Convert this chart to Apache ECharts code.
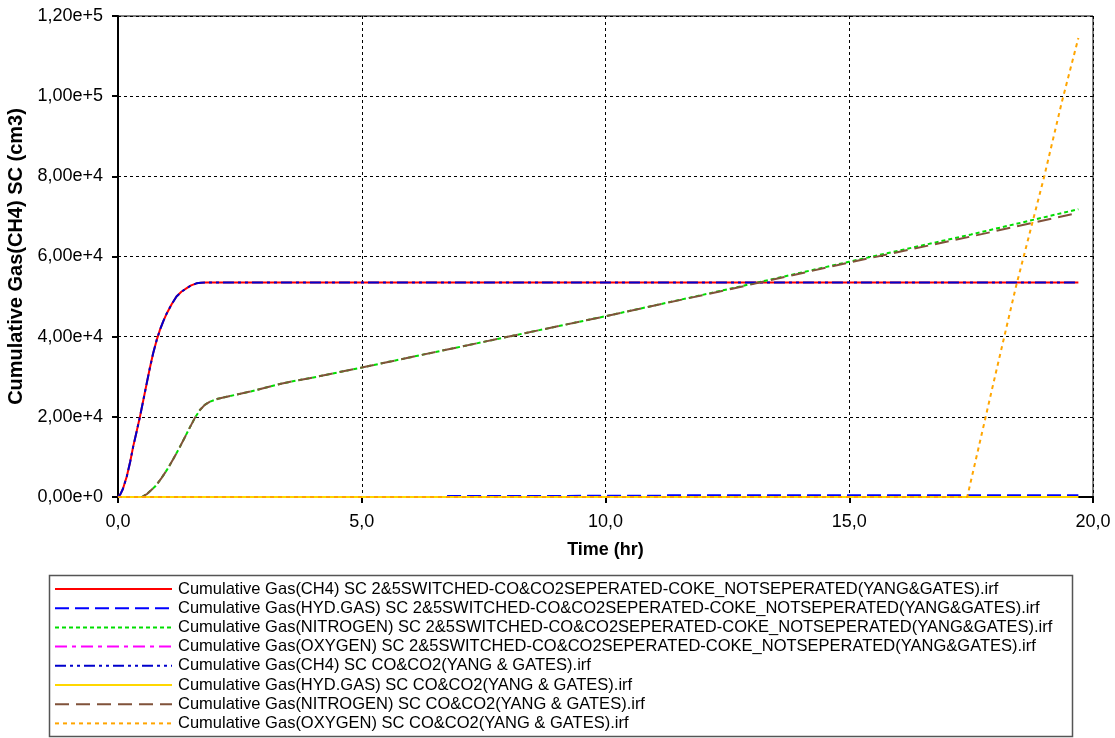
<!DOCTYPE html>
<html>
<head>
<meta charset="utf-8">
<title>Cumulative Gas</title>
<script src="https://cdn.jsdelivr.net/npm/echarts@6/dist/echarts.min.js"></script>
<style>
  html, body { margin: 0; padding: 0; background: #ffffff; }
  #chart { width: 1115px; height: 738px; }
</style>
</head>
<body>
<div id="chart"></div>
<script>
// Series names, in legend order
const seriesNames = [
  'Cumulative Gas(CH4) SC 2&5SWITCHED-CO&CO2SEPERATED-COKE_NOTSEPERATED(YANG&GATES).irf',
  'Cumulative Gas(HYD.GAS) SC 2&5SWITCHED-CO&CO2SEPERATED-COKE_NOTSEPERATED(YANG&GATES).irf',
  'Cumulative Gas(NITROGEN) SC 2&5SWITCHED-CO&CO2SEPERATED-COKE_NOTSEPERATED(YANG&GATES).irf',
  'Cumulative Gas(OXYGEN) SC 2&5SWITCHED-CO&CO2SEPERATED-COKE_NOTSEPERATED(YANG&GATES).irf',
  'Cumulative Gas(CH4) SC CO&CO2(YANG & GATES).irf',
  'Cumulative Gas(HYD.GAS) SC CO&CO2(YANG & GATES).irf',
  'Cumulative Gas(NITROGEN) SC CO&CO2(YANG & GATES).irf',
  'Cumulative Gas(OXYGEN) SC CO&CO2(YANG & GATES).irf'
];

// Time (hr) and cumulative gas (cm3) per series
const ch4Time = [0, 0.05, 0.1, 0.18, 0.25, 0.31, 0.38, 0.45, 0.52, 0.59, 0.65, 0.72, 0.79, 0.86, 0.93,
                 1.0, 1.1, 1.2, 1.3, 1.41, 1.5, 1.61, 1.7, 1.8, 19.7];
const ch4A    = [0, 700, 2000, 5100, 8800, 12500, 16200, 20000, 24200, 28400, 32000, 35800, 39000, 41700, 43900,
                 45800, 48100, 50000, 51200, 52100, 52800, 53300, 53450, 53500, 53500];
const ch4B    = [0, 700, 2000, 5100, 8800, 12500, 16200, 20000, 24200, 28400, 32000, 35800, 39000, 41700, 43900,
                 45800, 48100, 50000, 51200, 52100, 52800, 53300, 53450, 53500, 53500];

const hydTimeA = [6.75, 11.2, 11.25, 19.7];
const hydA     = [250, 300, 420, 450];

const n2Time = [0.49, 0.6, 0.76, 0.88, 1.0, 1.14, 1.27, 1.38, 1.48, 1.58, 1.68, 1.78, 1.89, 2.05, 2.23,
                2.71, 3.39, 4.08, 5.0, 7.5, 10.0, 12.5, 15.0, 17.5, 19.7];
const n2A    = [0, 800, 2600, 4500, 6700, 9600, 12500, 15100, 17500, 19800, 21700, 23000, 23800, 24500, 25000,
                26300, 28400, 30000, 32300, 38700, 45100, 51800, 58700, 65500, 71800];
const n2B    = [0, 800, 2600, 4500, 6700, 9600, 12500, 15100, 17500, 19800, 21700, 23000, 23800, 24500, 25000,
                26300, 28400, 30000, 32300, 38700, 45100, 51700, 58500, 65000, 70900];

const flatTime = [0, 19.7];
const o2A      = [0, 0];
const hydB     = [0, 0];

const o2TimeB = [0, 17.42, 17.95, 18.42, 19.0, 19.36, 19.7];
const o2B     = [0, 0, 28000, 52500, 80000, 98500, 114500];

// Axis ranges
const xMin = 0, xMax = 20, xStep = 5;
const yMin = 0, yMax = 120000, yStep = 20000;

const pairs = (t, v) => t.map((x, i) => [x, v[i]]);

const styles = [
  { color: '#ff0000', type: 'solid' },
  { color: '#0000ff', type: [14, 6] },
  { color: '#00dd00', type: [4, 3] },
  { color: '#ff00ff', type: [12, 5, 4, 5] },
  { color: '#0000cc', type: [11, 4, 3, 4, 3, 4] },
  { color: '#ffd700', type: 'solid' },
  { color: '#80523a', type: [14, 7] },
  { color: '#ffa500', type: [4, 4] }
];

const dataSets = [
  pairs(ch4Time, ch4A),
  pairs(hydTimeA, hydA),
  pairs(n2Time, n2A),
  pairs(flatTime, o2A),
  pairs(ch4Time, ch4B),
  pairs(flatTime, hydB),
  pairs(n2Time, n2B),
  pairs(o2TimeB, o2B)
];

function sciLabel(v) {
  if (v === 0) return '0,00e+0';
  const e = Math.floor(Math.log10(Math.abs(v)) + 1e-9);
  const m = v / Math.pow(10, e);
  return m.toFixed(2).replace('.', ',') + 'e+' + e;
}

const chart = echarts.init(document.getElementById('chart'), null, { renderer: 'canvas' });

const font = 'Arial, "Liberation Sans", sans-serif';

chart.setOption({
  backgroundColor: '#ffffff',
  animation: false,
  grid: {
    left: 118, right: 22, top: 16, bottom: 241,
    outerBoundsMode: 'none', containLabel: false,
    show: true, borderColor: '#000000', borderWidth: 1, backgroundColor: 'transparent'
  },
  xAxis: {
    type: 'value', min: xMin, max: xMax, interval: xStep,
    name: 'Time (hr)', nameLocation: 'middle', nameGap: 44,
    nameTextStyle: { fontFamily: font, fontWeight: 'bold', fontSize: 18, color: '#000' },
    axisLine: { show: true, onZero: false, lineStyle: { color: '#000', width: 2 } },
    axisTick: { show: true, length: 6, lineStyle: { color: '#000', width: 2 } },
    axisLabel: { fontFamily: font, fontSize: 18, color: '#000', margin: 16,
      formatter: v => v.toFixed(1).replace('.', ',') },
    splitLine: { show: true, lineStyle: { color: '#000', type: [3, 3], width: 1 } }
  },
  yAxis: {
    type: 'value', min: yMin, max: yMax, interval: yStep,
    name: 'Cumulative Gas(CH4) SC (cm3)', nameLocation: 'middle', nameGap: 83,
    nameTextStyle: { fontFamily: font, fontWeight: 'bold', fontSize: 20, color: '#000' },
    axisLine: { show: true, lineStyle: { color: '#000', width: 2 } },
    axisTick: { show: true, length: 6, lineStyle: { color: '#000', width: 2 } },
    axisLabel: { fontFamily: font, fontSize: 18, color: '#000', margin: 15, formatter: sciLabel },
    splitLine: { show: true, lineStyle: { color: '#000', type: [3, 3], width: 1 } }
  },
  legend: {
    show: true, type: 'plain',
    orient: 'vertical', left: 54, top: 580.5, padding: 0,
    itemWidth: 117, itemHeight: 14, itemGap: 2.2,
    itemStyle: { color: 'rgba(0,0,0,0)', borderWidth: 0, opacity: 0 },
    textStyle: { fontFamily: font, fontSize: 16.5, color: '#000', padding: [0, 0, 0, 1] },
    data: seriesNames
  },
  graphic: [{
    type: 'rect', silent: true, z: -1,
    shape: { x: 49.5, y: 575.5, width: 1023, height: 161 },
    style: { fill: 'none', stroke: '#555555', lineWidth: 1.5 }
  }],
  series: seriesNames.map((name, i) => ({
    name, type: 'line', data: dataSets[i],
    symbol: 'none', showSymbol: false, smooth: false,
    lineStyle: { color: styles[i].color, type: styles[i].type, width: 2 },
    itemStyle: { color: styles[i].color },
    z: 2 + i
  }))
});
</script>
</body>
</html>
